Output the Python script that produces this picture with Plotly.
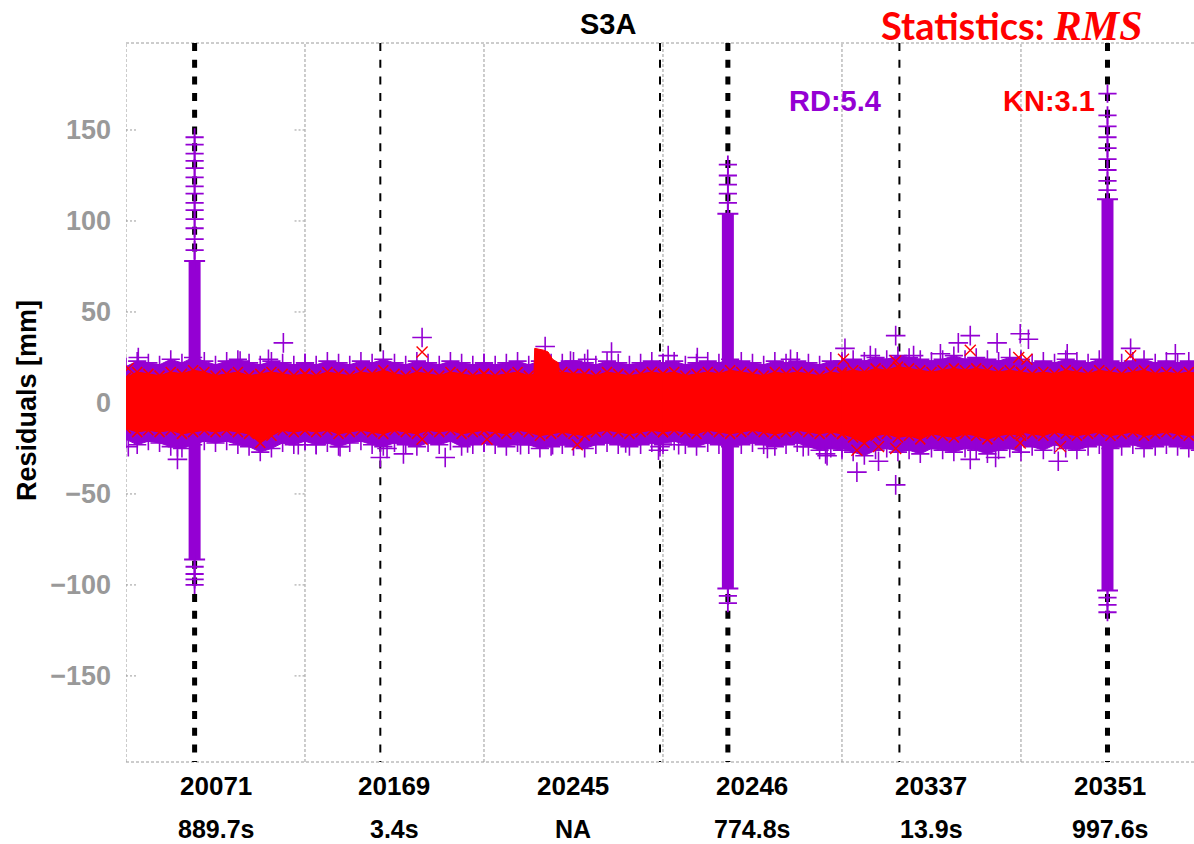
import plotly.graph_objects as go

# ---- panel labels -------------------------------------------------------
PANEL_DAYS = ["20071", "20169", "20245", "20246", "20337", "20351"]
PANEL_DURATIONS = ["889.7s", "3.4s", "NA", "774.8s", "13.9s", "997.6s"]
PANEL_SPAN = 24.0          # hours shown per panel
X_END = 143.2              # right edge of the visible axis (hours)

# ---- event markers (absolute hours along the axis) ----------------------
EVENT_HOURS = [9.2, 34.1, 71.6, 80.7, 103.7, 131.6]
EVENT_LONG = [True, False, False, True, False, True]

# ---- residual envelopes, sampled every 1.5 h inside each panel ----------
SAMPLE_HOURS = [0, 1.5, 3, 4.5, 6, 7.5, 9, 10.5, 12, 13.5, 15, 16.5, 18, 19.5, 21, 22.5, 24]

KN_HI = [
    [14, 17, 16, 15, 17, 16, 18, 17, 15, 16, 17, 15, 16, 17, 16, 15, 16],
    [16, 15, 17, 16, 15, 17, 16, 18, 16, 15, 17, 16, 15, 17, 16, 15, 16],
    [16, 15, 16, 17, 15, 17, 16, 17, 16, 16, 15, 17, 16, 15, 16, 17, 16],
    [16, 17, 15, 16, 17, 16, 18, 17, 16, 15, 17, 16, 17, 16, 15, 17, 16],
    [17, 18, 17, 19, 18, 20, 19, 18, 17, 18, 19, 18, 19, 18, 17, 18, 17],
    [17, 16, 17, 16, 18, 17, 16, 18, 17, 16, 17, 18, 16, 17, 16, 17, 16],
]
KN_LO = [
    [-14, -16, -15, -16, -15, -17, -16, -15, -16, -15, -16, -17, -22, -18, -15, -16, -15],
    [-15, -16, -15, -17, -16, -15, -16, -17, -15, -16, -17, -15, -16, -15, -17, -16, -15],
    [-15, -16, -17, -15, -16, -18, -17, -16, -17, -18, -16, -15, -16, -17, -16, -15, -16],
    [-16, -15, -16, -17, -15, -16, -17, -16, -15, -16, -17, -16, -15, -16, -17, -16, -17],
    [-17, -19, -22, -18, -17, -19, -18, -20, -17, -18, -19, -17, -18, -20, -18, -17, -18],
    [-16, -17, -18, -16, -17, -18, -17, -16, -18, -17, -16, -18, -17, -16, -17, -18, -17],
]
RD_HI = [
    [20, 23, 22, 21, 24, 22, 25, 23, 21, 23, 24, 22, 21, 23, 22, 21, 22],
    [22, 21, 23, 22, 21, 23, 22, 24, 22, 21, 23, 22, 21, 23, 22, 21, 22],
    [22, 21, 22, 23, 21, 23, 22, 22, 23, 22, 21, 23, 22, 21, 22, 23, 22],
    [22, 23, 21, 22, 23, 22, 24, 23, 22, 21, 23, 22, 23, 22, 21, 23, 22],
    [23, 24, 23, 25, 24, 26, 25, 24, 23, 24, 26, 24, 25, 24, 23, 25, 24],
    [23, 22, 23, 22, 24, 23, 22, 24, 23, 22, 23, 24, 22, 23, 22, 23, 22],
]
RD_LO = [
    [-20, -23, -21, -22, -24, -25, -23, -21, -22, -21, -23, -24, -27, -25, -22, -23, -21],
    [-21, -23, -22, -24, -22, -21, -23, -24, -22, -23, -24, -22, -23, -21, -24, -23, -22],
    [-22, -23, -24, -22, -23, -25, -24, -23, -24, -25, -23, -22, -23, -24, -23, -22, -23],
    [-22, -21, -23, -24, -22, -23, -24, -23, -22, -23, -24, -23, -22, -24, -26, -25, -26],
    [-25, -27, -29, -26, -25, -27, -26, -28, -25, -26, -27, -25, -26, -28, -26, -25, -27],
    [-23, -24, -26, -23, -25, -26, -24, -23, -25, -24, -23, -25, -24, -23, -24, -25, -26],
]

# raised KN residuals early on day 20245 (absolute hours)
BUMP_HOURS = [54.7, 54.8, 56.0, 56.6, 57.2, 58.0, 58.1]
BUMP_TOP = [15, 30, 29, 28, 24, 22, 15]

# ---- isolated residuals --------------------------------------------------
RD_OUT_X = [1.65, 0.31, 6.9, 6.9, 15.3, 19.1, 21.1, 23.1, 25.5, 28.7, 34.1, 35.0, 37.2,
            39.7, 42.8, 45.8, 52.9, 56.2, 57.2, 59.6, 61.9, 65.1, 67.0, 71.4, 71.6,
            72.7, 74.1, 76.6, 86.0, 89.1, 90.8, 93.8, 94.0, 96.4, 98.0, 99.8, 100.9,
            103.2, 103.2, 105.6, 109.2, 111.6, 113.2, 113.2, 116.6, 116.8, 119.9,
            121.0, 125.0, 126.2, 134.7, 140.7]
RD_OUT_Y = [25, -24, -31, -24, 23, 24, 33, -23, -23, -24, -30, -25, -28,
            36, -30, -22, -23, 31, -23, 23, 24, 28, -22, -26, -24,
            26, -23, 25, -25, 24, -24, -28, -29, 30, -38, 26, -32,
            37, -45, 26, 27, 33, 37, -31, -30, 33, 38,
            35, -32, 27, 30, 27]
KN_OUT_X = [0.3, 39.7, 39.7, 48.4, 60.5, 96.2, 98.0, 100.9, 103.2, 103.2, 113.2,
            119.7, 119.9, 120.8, 125.3, 134.7]
KN_OUT_Y = [19, 28, -20, -20, -23, 24, -26, -24, 23, -25, 29,
            25, -22, 24, -24, 26]

# ---- RD residual spikes around the long events ---------------------------
SPIKE_HOURS = [9.2, 80.7, 131.6]
SPIKE_CORE_LO = [-86, -102, -103]
SPIKE_CORE_HI = [78, 104, 112]
SPIKE_TIPS = [
    [84, 90, 96, 101, 106, 110, 115, 119, 124, 129, 133, 137, 142, 146, -90, -94, -97, -100],
    [110, 115, 120, 125, 131, -106, -110],
    [117, 122, 128, 134, 140, 146, 152, 158, 170, -107, -111, -115],
]

TICK_VALUES = [-150, -100, -50, 0, 50, 100, 150]
Y_RANGE = [-197.3, 197.8]

RD_COLOR = "#9400d3"
KN_COLOR = "#ff0000"
GRID_GREY = "#9a9a9a"

fig = go.Figure()


def band(hi, lo, offset, color):
    xs = [offset + h for h in SAMPLE_HOURS]
    return go.Scatter(
        x=xs + xs[::-1], y=hi + lo[::-1], mode="lines", fill="toself",
        fillcolor=color, line=dict(color=color, width=1), hoverinfo="skip",
    )


def edge_marks(hi, lo, offset, color, symbol, size):
    xs = [offset + h for h in SAMPLE_HOURS]
    return go.Scatter(
        x=xs + xs, y=hi + lo, mode="markers",
        marker=dict(symbol=symbol, size=size, color=color,
                    line=dict(color=color, width=1.6)),
        hoverinfo="skip",
    )


# RD (purple) layer
for p in range(len(PANEL_DAYS)):
    off = p * PANEL_SPAN
    fig.add_trace(band(RD_HI[p], RD_LO[p], off, RD_COLOR))
    fig.add_trace(edge_marks(RD_HI[p], RD_LO[p], off, RD_COLOR, "cross-thin", 13))

for h, lo, hi, tips in zip(SPIKE_HOURS, SPIKE_CORE_LO, SPIKE_CORE_HI, SPIKE_TIPS):
    fig.add_trace(go.Scatter(x=[h, h], y=[lo, hi], mode="lines",
                             line=dict(color=RD_COLOR, width=12), hoverinfo="skip"))
    fig.add_trace(go.Scatter(x=[h, h], y=[lo, hi], mode="markers",
                             marker=dict(symbol="cross-thin", size=15, color=RD_COLOR,
                                         line=dict(color=RD_COLOR, width=2)),
                             hoverinfo="skip"))
    fig.add_trace(go.Scatter(x=[h] * len(tips), y=tips, mode="markers",
                             marker=dict(symbol="cross-thin", size=13, color=RD_COLOR,
                                         line=dict(color=RD_COLOR, width=1.8)),
                             hoverinfo="skip"))

fig.add_trace(go.Scatter(x=RD_OUT_X, y=RD_OUT_Y, mode="markers",
                         marker=dict(symbol="cross-thin", size=14, color=RD_COLOR,
                                     line=dict(color=RD_COLOR, width=1.6)),
                         hoverinfo="skip"))

# KN (red) layer
for p in range(len(PANEL_DAYS)):
    off = p * PANEL_SPAN
    fig.add_trace(band(KN_HI[p], KN_LO[p], off, KN_COLOR))
    fig.add_trace(edge_marks(KN_HI[p], KN_LO[p], off, KN_COLOR, "x-thin", 10))

fig.add_trace(go.Scatter(x=BUMP_HOURS, y=BUMP_TOP, mode="lines", fill="tozeroy",
                         fillcolor=KN_COLOR, line=dict(color=KN_COLOR, width=1),
                         hoverinfo="skip"))
fig.add_trace(go.Scatter(x=KN_OUT_X, y=KN_OUT_Y, mode="markers",
                         marker=dict(symbol="x-thin", size=11, color=KN_COLOR,
                                     line=dict(color=KN_COLOR, width=1.4)),
                         hoverinfo="skip"))

# ---- frame: dashed panel borders, event lines, y ticks ------------------
shapes = []
for p in range(len(PANEL_DAYS)):
    shapes.append(dict(type="line", xref="x", yref="paper", x0=p * PANEL_SPAN,
                       x1=p * PANEL_SPAN, y0=0, y1=1, layer="below",
                       line=dict(color=GRID_GREY, width=1, dash="3px,2px")))
for y0 in (0, 1):
    shapes.append(dict(type="line", xref="paper", yref="paper", x0=0, x1=1,
                       y0=y0, y1=y0, layer="below",
                       line=dict(color=GRID_GREY, width=1, dash="3px,2px")))
for h, long_event in zip(EVENT_HOURS, EVENT_LONG):
    shapes.append(dict(type="line", xref="x", yref="paper", x0=h, x1=h, y0=1, y1=0,
                       layer="below",
                       line=dict(color="black", width=5 if long_event else 2,
                                 dash="8px,8.7px")))
for v in TICK_VALUES:
    for a, b in ((0, 1.4), (PANEL_SPAN - 1.4, PANEL_SPAN)):
        shapes.append(dict(type="line", xref="x", yref="y", x0=a, x1=b, y0=v, y1=v,
                           layer="below", line=dict(color=GRID_GREY, width=1, dash="2px,2px")))

# ---- text ----------------------------------------------------------------
bold = dict(family="Liberation Sans, Arial, sans-serif", weight="bold")
annotations = []
for p, (day, dur) in enumerate(zip(PANEL_DAYS, PANEL_DURATIONS)):
    cx = p * PANEL_SPAN + PANEL_SPAN / 2
    annotations.append(dict(x=cx, y=-0.0334, xref="x", yref="paper", text=day,
                            showarrow=False, yanchor="middle", height=24,
                            font=dict(size=26, color="black", **bold)))
    annotations.append(dict(x=cx, y=-0.0931, xref="x", yref="paper", text=dur,
                            showarrow=False, yanchor="middle", height=22,
                            font=dict(size=25, color="black", **bold)))

annotations += [
    dict(x=0.4513, y=1.0264, xref="paper", yref="paper", text="S3A", showarrow=False,
         xanchor="center", yanchor="middle", font=dict(size=29, color="black", **bold)),
    dict(x=95.0, y=166, xref="x", yref="y", text="RD:5.4", showarrow=False,
         xanchor="center", yanchor="middle", font=dict(size=29, color=RD_COLOR, **bold)),
    dict(x=123.8, y=166, xref="x", yref="y", text="KN:3.1", showarrow=False,
         xanchor="center", yanchor="middle", font=dict(size=29, color=KN_COLOR, **bold)),
    dict(x=0.8296, y=1.0250, xref="paper", yref="paper", showarrow=False,
         xanchor="center", yanchor="middle", height=36,
         text="Statistics: <i><span style=\"font-family:'Liberation Serif';font-size:42px\">RMS</span></i>",
         font=dict(size=38, color=KN_COLOR, family="Lato, sans-serif", weight="bold")),
    dict(x=-0.0927, y=0.5035, xref="paper", yref="paper", text="Residuals [mm]",
         showarrow=False, textangle=-90, xanchor="center", yanchor="middle",
         font=dict(size=27, color="black", **bold)),
]

fig.update_layout(
    width=1194, height=844,
    margin=dict(l=126, r=0, t=43, b=82),
    paper_bgcolor="white", plot_bgcolor="white",
    showlegend=False,
    shapes=shapes,
    annotations=annotations,
    xaxis=dict(range=[0, X_END], showticklabels=False, showgrid=False,
               zeroline=False, showline=False, ticks=""),
    yaxis=dict(range=Y_RANGE, tickvals=TICK_VALUES, showgrid=False, zeroline=False,
               showline=False, ticks="", ticklabelstandoff=14,
               tickfont=dict(size=27, color="#999999", **bold)),
)

fig.write_html("out.html")
